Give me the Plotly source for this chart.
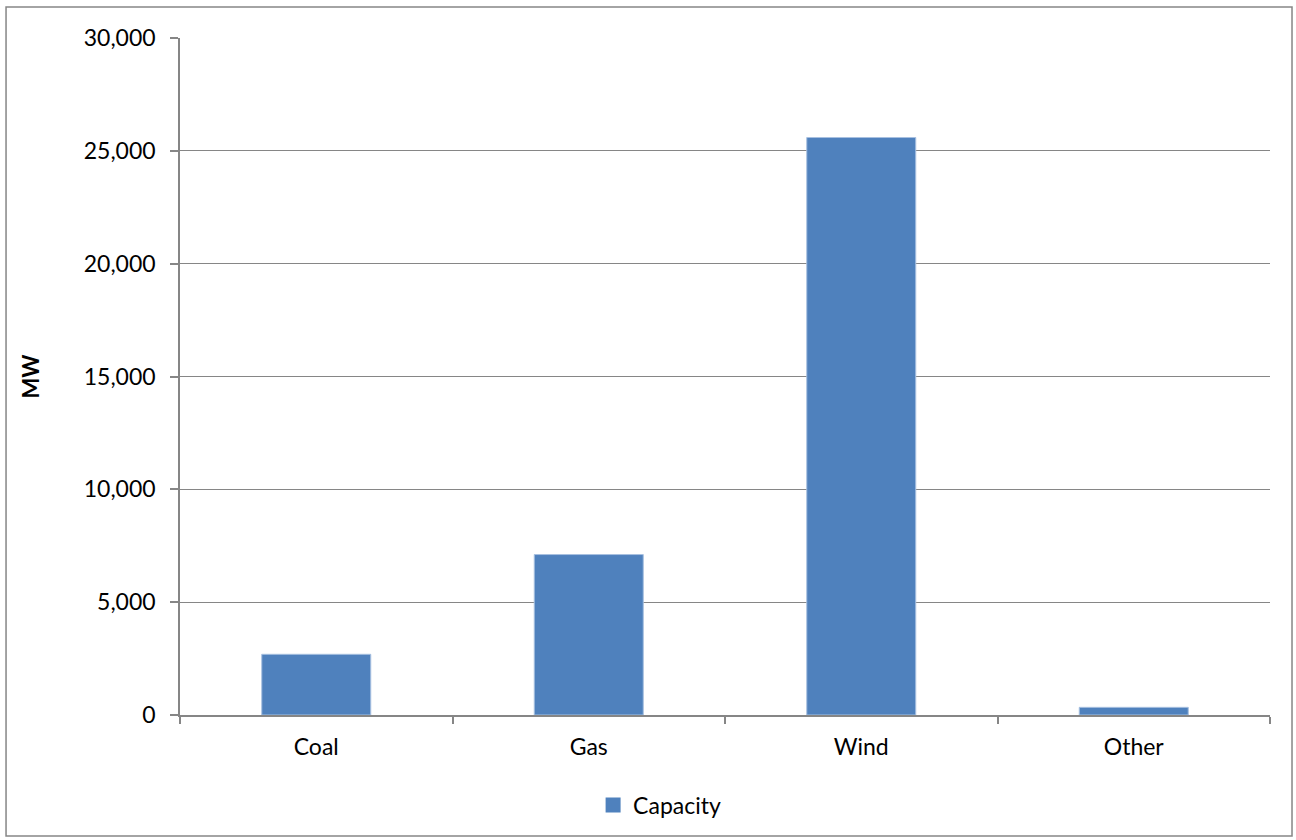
import plotly.graph_objects as go

# Installed generating capacity by fuel type
categories = ["Coal", "Gas", "Wind", "Other"]
capacity_mw = [2690, 7110, 25590, 340]
y_ticks = [0, 5000, 10000, 15000, 20000, 25000, 30000]

BAR = "#4F81BD"
GRID = "#868686"
FONT = "Lato, 'Open Sans', sans-serif"

fig = go.Figure()
fig.add_trace(go.Bar(
    x=categories,
    y=capacity_mw,
    name="Capacity",
    showlegend=False,
    marker=dict(color=BAR, line=dict(color="#A7C0E0", width=1)),
))
# legend entry with a larger square swatch
fig.add_trace(go.Scatter(
    x=[None], y=[None], mode="markers", name="Capacity",
    marker=dict(symbol="square", size=15, color=BAR),
))

fig.update_layout(
    width=1296,
    height=840,
    margin=dict(l=180, r=26, t=38, b=125),
    paper_bgcolor="white",
    plot_bgcolor="white",
    bargap=0.6,
    font=dict(family=FONT, size=23, color="#000000"),
    showlegend=True,
    legend=dict(
        orientation="h",
        x=0.44, xanchor="center",
        y=-0.133, yanchor="middle",
        font=dict(size=23),
        itemwidth=30,
    ),
    xaxis=dict(
        type="category",
        showline=True, linecolor=GRID, linewidth=2,
        ticks="outside", tickson="boundaries", ticklen=7,
        tickcolor=GRID, tickwidth=1.5,
        showgrid=False,
        tickfont=dict(size=23),
        ticklabelstandoff=10,
    ),
    yaxis=dict(
        range=[0, 30000],
        tickvals=y_ticks,
        tickformat=",",
        showgrid=True, gridcolor=GRID, gridwidth=1.3,
        showline=True, linecolor=GRID, linewidth=1.5,
        ticks="outside", ticklen=8, tickcolor=GRID, tickwidth=1.5,
        zeroline=False,
        tickfont=dict(size=23),
        ticklabelstandoff=10,
        title=dict(text="<b>MW</b>", font=dict(size=22), standoff=38),
    ),
    shapes=[dict(
        type="rect", xref="paper", yref="paper",
        x0=-0.1596, x1=1.0202, y0=-0.1787, y1=1.0458,
        line=dict(color=GRID, width=1.5),
        fillcolor="rgba(0,0,0,0)",
        layer="below",
    )],
)

fig.write_html("out.html")
